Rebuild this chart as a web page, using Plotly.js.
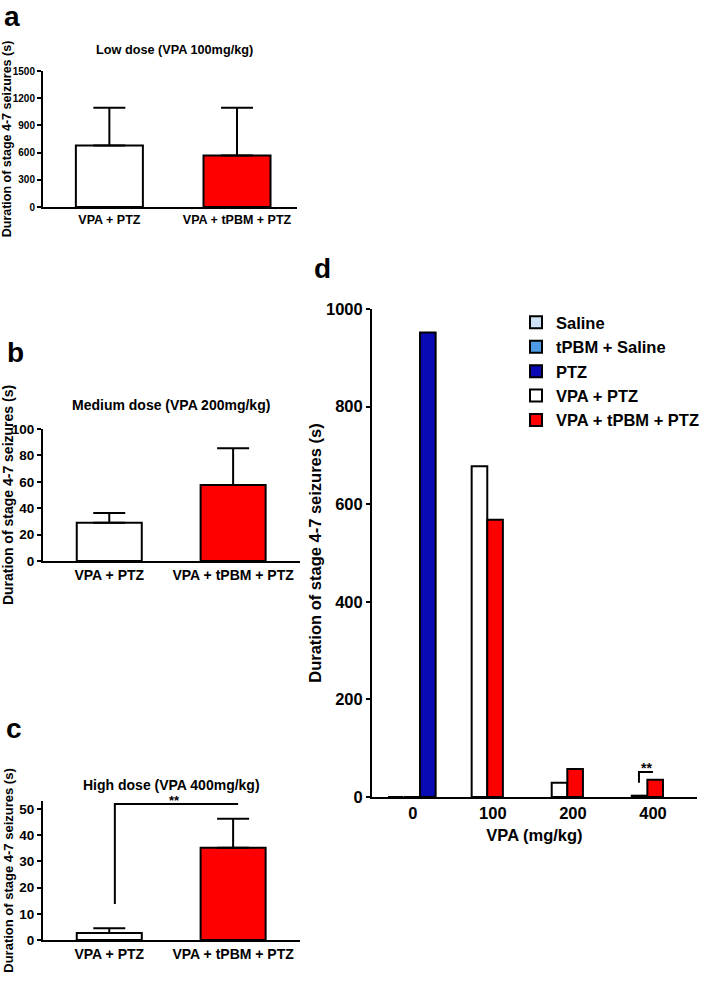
<!DOCTYPE html>
<html>
<head>
<meta charset="utf-8">
<script src="https://cdn.plot.ly/plotly-3.0.1.min.js"></script>
<style>
  html, body { margin: 0; padding: 0; background: white; }
  #chart { width: 708px; height: 981px; }
</style>
</head>
<body>
<div id="chart"></div>
<script>
// panels a-c: two groups each
const groupLabels = ['VPA + PTZ', 'VPA + tPBM + PTZ'];
const lowDoseMean = [678, 568];
const lowDoseErr = [418, 528];
const mediumDoseMean = [29, 57.5];
const mediumDoseErr = [7.4, 28];
const highDoseMean = [2.7, 35.2];
const highDoseErr = [1.8, 11];

// significance bracket in panel c (x in group units, y in seconds)
const highSigX = [0.045, 0.045, 1.04];
const highSigY = [13.7, 51.9, 51.9];

// panel d: dose-response summary
const vpaDoses = ['0', '100', '200', '400'];
const salineD = [0, null, null, null];
const tpbmSalineD = [0, null, null, null];
const ptzD = [952, null, null, null];
const vpaPtzD = [null, 678, 29, 2.7];
const vpaTpbmPtzD = [null, 568, 57.5, 35.2];
const doseSigX = [2.825, 2.825, 3.0];
const doseSigY = [29, 51, 51];

const W = 708, H = 981;
const barColors = ['white', '#ff0000'];

function domX(left, right) { return [left / W, right / W]; }
function domY(top, bottom) { return [1 - bottom / H, 1 - top / H]; }

function groupBars(means, errs, axisId) {
    return {
        type: 'bar',
        x: groupLabels.map((_, i) => i),
        y: means,
        xaxis: 'x' + axisId,
        yaxis: 'y' + axisId,
        width: 0.525,
        marker: { color: barColors, line: { color: 'black', width: 2 } },
        error_y: {
            type: 'data', symmetric: false, array: errs, arrayminus: [0, 0],
            color: 'black', thickness: 2, width: 16
        },
        showlegend: false,
        hoverinfo: 'y'
    };
}

function doseBars(name, values, color, offset) {
    return {
        type: 'bar',
        name: name,
        legendgroup: name,
        x: vpaDoses.map((_, i) => i),
        y: values,
        xaxis: 'x4',
        yaxis: 'y4',
        offset: offset,
        width: 0.195,
        marker: { color: color, line: { color: 'black', width: 2 } }
    };
}

function bracket(xs, ys, axisId) {
    return {
        type: 'scatter', mode: 'lines', x: xs, y: ys,
        xaxis: 'x' + axisId, yaxis: 'y' + axisId,
        line: { color: 'black', width: 2 },
        cliponaxis: false, showlegend: false, hoverinfo: 'skip'
    };
}

function xAxis(domain, range, anchor, fontSize, labels) {
    return {
        domain: domain, range: range, anchor: anchor,
        tickmode: 'array', tickvals: labels.map((_, i) => i), ticktext: labels,
        ticks: '', showline: true, linewidth: 2, linecolor: 'black',
        showgrid: false, zeroline: false,
        tickfont: { size: fontSize }
    };
}

function yAxis(domain, range, dtick, anchor, fontSize, titleSize, standoff) {
    return {
        domain: domain, range: range, dtick: dtick, anchor: anchor,
        ticks: 'outside', ticklen: 4, tickwidth: 2, tickcolor: 'black',
        showline: true, linewidth: 2, linecolor: 'black',
        showgrid: false, zeroline: false, ticklabelstandoff: 0,
        tickfont: { size: fontSize },
        title: {
            text: 'Duration of stage 4-7 seizures (s)',
            font: { size: titleSize }, standoff: standoff
        }
    };
}

function panelLetter(text, x, y) {
    return {
        text: text, xref: 'paper', yref: 'paper', x: x / W, y: 1 - y / H,
        xanchor: 'center', yanchor: 'middle', showarrow: false,
        font: { size: 28 }
    };
}

function panelTitle(text, x, y, size) {
    return {
        text: text, xref: 'paper', yref: 'paper', x: x / W, y: 1 - y / H,
        xanchor: 'center', yanchor: 'middle', showarrow: false,
        font: { size: size }
    };
}

function drawFigure() {
    const traces = [
        groupBars(lowDoseMean, lowDoseErr, ''),
        groupBars(mediumDoseMean, mediumDoseErr, '2'),
        groupBars(highDoseMean, highDoseErr, '3'),
        bracket(highSigX, highSigY, '3'),
        doseBars('Saline', salineD, '#cfe2f7', -0.31),
        doseBars('tPBM + Saline', tpbmSalineD, '#4e9be6', -0.11),
        doseBars('PTZ', ptzD, '#0a0ab4', 0.09),
        doseBars('VPA + PTZ', vpaPtzD, 'white', -0.265),
        doseBars('VPA + tPBM + PTZ', vpaTpbmPtzD, '#ff0000', -0.07),
        bracket(doseSigX, doseSigY, '4')
    ];

    const layout = {
        width: W,
        height: H,
        margin: { l: 0, r: 0, t: 0, b: 0 },
        paper_bgcolor: 'white',
        plot_bgcolor: 'white',
        barmode: 'overlay',
        font: { family: 'Liberation Sans, Arial, sans-serif', color: 'black', weight: 'bold' },
        xaxis: xAxis(domX(43, 297), [-0.52, 1.47], 'y', 12.5, groupLabels),
        yaxis: yAxis(domY(71, 207), [0, 1500], 300, 'x', 10, 12.5, 4),
        xaxis2: xAxis(domX(43, 300), [-0.535, 1.54], 'y2', 14, groupLabels),
        yaxis2: yAxis(domY(429, 561), [0, 100], 20, 'x2', 13.5, 14, 3),
        xaxis3: xAxis(domX(43, 300), [-0.535, 1.54], 'y3', 14, groupLabels),
        // range runs a little past 50 so the bracket and its stars stay inside
        yaxis3: Object.assign(yAxis(domY(801, 940), [0, 53], 10, 'x3', 13.5, 13, 3), {
            tickvals: [0, 10, 20, 30, 40, 50]
        }),
        xaxis4: Object.assign(xAxis(domX(372, 697), [-0.51, 3.55], 'y4', 16.5, vpaDoses), {
            title: { text: 'VPA (mg/kg)', font: { size: 16.5 }, standoff: 9 }
        }),
        yaxis4: yAxis(domY(309, 797), [0, 1000], 200, 'x4', 16.5, 16.5, 0),
        legend: {
            x: 516 / W, y: 1 - 305 / H, xanchor: 'left', yanchor: 'top',
            font: { size: 16.5 }, tracegroupgap: 0, bgcolor: 'rgba(0,0,0,0)'
        },
        annotations: [
            panelLetter('a', 12, 17),
            panelLetter('b', 15, 352),
            panelLetter('c', 14, 728),
            panelLetter('d', 322, 268),
            panelTitle('Low dose (VPA 100mg/kg)', 174, 50, 12.7),
            panelTitle('Medium dose (VPA 200mg/kg)', 171, 405, 14),
            panelTitle('High dose (VPA 400mg/kg)', 171, 785, 14),
            {
                text: '**', xref: 'x3', yref: 'y3', x: 0.53, y: highSigY[1],
                yanchor: 'bottom', showarrow: false, yshift: -6, font: { size: 13 }
            },
            {
                text: '**', xref: 'x4', yref: 'y4', x: 2.92, y: doseSigY[1],
                yanchor: 'bottom', showarrow: false, yshift: -6, font: { size: 14 }
            }
        ]
    };

    Plotly.newPlot('chart', traces, layout, { displayModeBar: false, staticPlot: true });
}

window.addEventListener('DOMContentLoaded', () => {
    drawFigure();
});
</script>
</body>
</html>
